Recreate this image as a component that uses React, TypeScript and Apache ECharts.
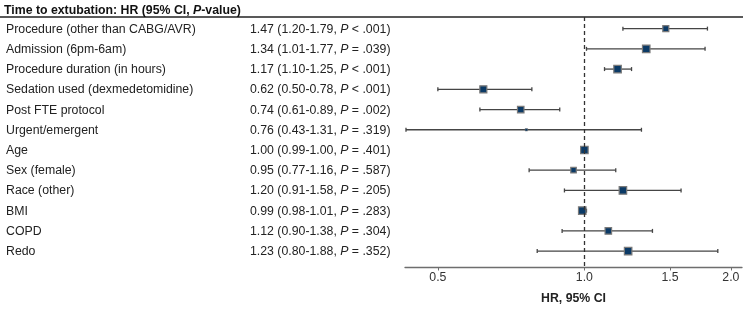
import React, { useEffect, useRef } from "react";
import * as echarts from "echarts";

const title = "Time to extubation: HR (95% CI, {i|P}-value)";
const labels = [
  "Procedure (other than CABG/AVR)",
  "Admission (6pm-6am)",
  "Procedure duration (in hours)",
  "Sedation used (dexmedetomidine)",
  "Post FTE protocol",
  "Urgent/emergent",
  "Age",
  "Sex (female)",
  "Race (other)",
  "BMI",
  "COPD",
  "Redo",
];
const hr = [1.47, 1.34, 1.17, 0.62, 0.74, 0.76, 1.0, 0.95, 1.2, 0.99, 1.12, 1.23];
const lo = [1.2, 1.01, 1.1, 0.5, 0.61, 0.43, 0.99, 0.77, 0.91, 0.98, 0.9, 0.8];
const hi = [1.79, 1.77, 1.25, 0.78, 0.89, 1.31, 1.0, 1.16, 1.58, 1.01, 1.38, 1.88];
const pOp = ["<", "=", "<", "<", "=", "=", "=", "=", "=", "=", "=", "="];
const pVal = [".001", ".039", ".001", ".001", ".002", ".319", ".401", ".587", ".205", ".283", ".304", ".352"];
const markerSize = [6, 7.5, 7.5, 7, 6.5, 2.5, 7.5, 5.5, 7.5, 7.5, 6.5, 7.5];
const tickValues = [0.5, 1.0, 1.5, 2.0];
const xRange = [0.428, 2.108];

const FONT = "Liberation Sans, Arial, Helvetica, sans-serif";
const FS = 12.3;
const log2 = (v: number) => Math.log2(v);

export default function App() {
  const ref = useRef<HTMLDivElement>(null);
  useEffect(() => {
    if (!ref.current) return;
    const chart = echarts.init(ref.current, undefined, { renderer: "svg" });
    const data = labels.map((_, i) => [i, log2(hr[i]), log2(lo[i]), log2(hi[i]), markerSize[i]]);
    const option: any = {
      animation: false,
      textStyle: { fontFamily: FONT },
      grid: { left: 405, right: 1, top: 17, bottom: 40.7, containLabel: false },
      xAxis: {
        type: "value",
        min: log2(xRange[0]),
        max: log2(xRange[1]),
        axisLine: { show: true, onZero: false, lineStyle: { color: "#6e6e6e", width: 1.3 } },
        axisTick: { show: true, customValues: tickValues.map(log2), length: 3.5, lineStyle: { color: "#6e6e6e" } },
        axisLabel: {
          customValues: tickValues.map(log2),
          formatter: (v: number) => Math.pow(2, v).toFixed(1),
          color: "#333",
          fontSize: FS,
          fontFamily: FONT,
          margin: 4,
        },
        splitLine: { show: false },
        name: "HR, 95% CI",
        nameLocation: "middle",
        nameGap: 25,
        nameTextStyle: { fontWeight: "bold", fontSize: FS, color: "#222", fontFamily: FONT },
      },
      yAxis: { type: "value", inverse: true, min: -0.575, max: 11.785, show: false },
      graphic: [
        {
          type: "line",
          shape: { x1: 0, y1: 17, x2: 743, y2: 17 },
          style: { stroke: "#222", lineWidth: 1.3 },
        },
        {
          type: "text",
          left: 4,
          top: 4,
          style: {
            text: title,
            font: `bold ${FS}px ${FONT}`,
            fill: "#111",
            rich: { i: { fontStyle: "italic", fontWeight: "bold", fontSize: FS, fontFamily: FONT, fill: "#111" } },
          },
        },
      ],
      series: [
        {
          type: "custom",
          data,
          encode: { x: [1, 2, 3], y: 0 },
          renderItem: (params: any, api: any) => {
            const i = api.value(0);
            const c = api.coord([api.value(1), i]);
            const l = api.coord([api.value(2), i]);
            const h = api.coord([api.value(3), i]);
            const s = api.value(4);
            const y = c[1];
            const capH = 2;
            const lineStyle = { stroke: "#454545", lineWidth: 1.3 };
            const stat = `${hr[i].toFixed(2)} (${lo[i].toFixed(2)}-${hi[i].toFixed(2)}, {i|P} ${pOp[i]} ${pVal[i]})`;
            return {
              type: "group",
              children: [
                {
                  type: "text",
                  style: { x: 6, y, text: labels[i], font: `${FS}px ${FONT}`, fill: "#222", verticalAlign: "middle", align: "left" },
                },
                {
                  type: "text",
                  style: {
                    x: 250,
                    y,
                    text: stat,
                    font: `${FS}px ${FONT}`,
                    fill: "#222",
                    verticalAlign: "middle",
                    align: "left",
                    rich: { i: { fontStyle: "italic", fontSize: FS, fontFamily: FONT, fill: "#222" } },
                  },
                },
                { type: "line", shape: { x1: l[0], y1: y, x2: h[0], y2: y }, style: lineStyle },
                { type: "line", shape: { x1: l[0], y1: y - capH, x2: l[0], y2: y + capH }, style: lineStyle },
                { type: "line", shape: { x1: h[0], y1: y - capH, x2: h[0], y2: y + capH }, style: lineStyle },
                {
                  type: "rect",
                  shape: { x: c[0] - s / 2, y: y - s / 2, width: s, height: s },
                  style: { fill: "#0b3a66", stroke: "#7a7a7a", lineWidth: s > 3 ? 1.2 : 0.5 },
                },
              ],
            };
          },
          markLine: {
            silent: true,
            symbol: "none",
            label: { show: false },
            lineStyle: { type: [4, 3], color: "#333", width: 1.3 },
            data: [{ xAxis: 0 }],
          },
          z: 3,
        },
      ],
    };
    chart.setOption(option);
    return () => chart.dispose();
  }, []);
  return <div ref={ref} style={{ position: "fixed", left: 0, top: 0, width: 743, height: 309 }} />;
}
